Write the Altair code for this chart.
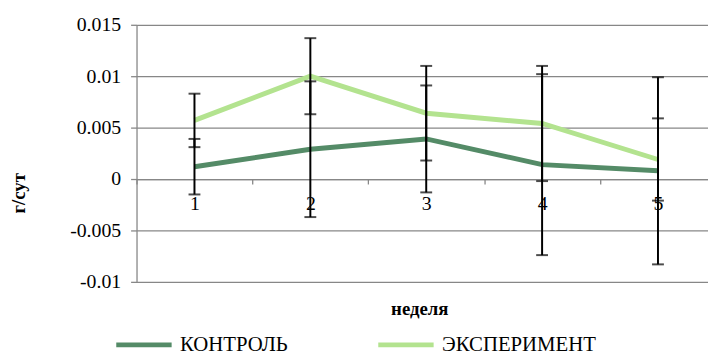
import altair as alt
import pandas as pd

weeks = ["1", "2", "3", "4", "5"]
series_names = ["КОНТРОЛЬ", "ЭКСПЕРИМЕНТ"]
control = [0.0012, 0.0029, 0.0039, 0.0014, 0.0008]
control_err = [0.0027, 0.0066, 0.0052, 0.0088, 0.0091]
experiment = [0.0057, 0.0100, 0.0064, 0.0054, 0.0019]
experiment_err = [0.0026, 0.0037, 0.0046, 0.0056, 0.0040]
y_ticks = [-0.01, -0.005, 0, 0.005, 0.01, 0.015]
series_colors = ["#548B67", "#B3E38F"]

rows = []
for name, vals, errs in zip(series_names, [control, experiment], [control_err, experiment_err]):
    for w, v, e in zip(weeks, vals, errs):
        rows.append({"week": w, "series": name, "value": v, "lo": v - e, "hi": v + e})
df = pd.DataFrame(rows)

FONT = "Liberation Serif"
GRAY = "#878787"

x_enc = alt.X(
    "week:O",
    scale=alt.Scale(type="band", domain=weeks, range=[0, 586], paddingInner=0, paddingOuter=0),
    axis=alt.Axis(
        title="неделя", labelAngle=0, offset=-104, tickBand="extent",
        domainColor=GRAY, domainWidth=1.3, tickColor=GRAY, tickWidth=1.3, tickSize=5,
        labelFont=FONT, labelFontSize=20, labelColor="black", labelPadding=10,
        titleFont=FONT, titleFontSize=19, titleFontWeight="bold", titleColor="black",
        titleX=286, titleY=131, titleBaseline="middle", titleAlign="center", grid=False,
    ),
)
y_scale = alt.Scale(domain=[-0.01, 0.015], nice=False, zero=False)
y_axis = alt.Axis(
    values=y_ticks, title="г/сут",
    labelExpr="replace(format(datum.value, '~g'), '−', '-')",
    domainColor=GRAY, domainWidth=1.3, tickColor=GRAY, tickWidth=1.3, tickSize=6,
    grid=True, gridColor=GRAY, gridWidth=1.3,
    labelFont=FONT, labelFontSize=20, labelColor="black", labelPadding=10,
    titleFont=FONT, titleFontSize=19, titleFontWeight="bold", titleColor="black",
    titleX=-119, titleY=170, titleAngle=270, titleAlign="center", titleBaseline="middle",
)

base = alt.Chart(df)

lines = base.mark_line(strokeWidth=5).encode(
    x=x_enc,
    y=alt.Y("value:Q", scale=y_scale, axis=y_axis),
    color=alt.Color(
        "series:N",
        scale=alt.Scale(domain=series_names, range=series_colors),
        legend=alt.Legend(
            title=None, orient="none", legendX=-23, legendY=293, direction="horizontal",
            symbolType="stroke", symbolSize=3136, symbolStrokeWidth=5,
            labelFont=FONT, labelFontSize=21, labelColor="black", labelOffset=6,
            columnPadding=81, padding=0, labelLimit=400,
        ),
    ),
    detail="series:N",
)

rules = base.mark_rule(color="black", strokeWidth=2).encode(
    x=x_enc,
    y=alt.Y("lo:Q", scale=y_scale, axis=y_axis),
    y2="hi:Q",
)
caps_hi = base.mark_tick(color="black", thickness=2, size=12).encode(
    x=x_enc, y=alt.Y("hi:Q", scale=y_scale, axis=y_axis)
)
caps_lo = base.mark_tick(color="black", thickness=2, size=12).encode(
    x=x_enc, y=alt.Y("lo:Q", scale=y_scale, axis=y_axis)
)

chart = alt.layer(lines, rules, caps_hi, caps_lo).properties(
    width=578, height=260,
    autosize=alt.AutoSizeParams(type="none"),
    padding={"left": 130, "top": 15, "right": 0, "bottom": 72},
).configure_view(strokeWidth=0)

chart.save("out.html", embed_options={"renderer": "svg", "actions": False})
